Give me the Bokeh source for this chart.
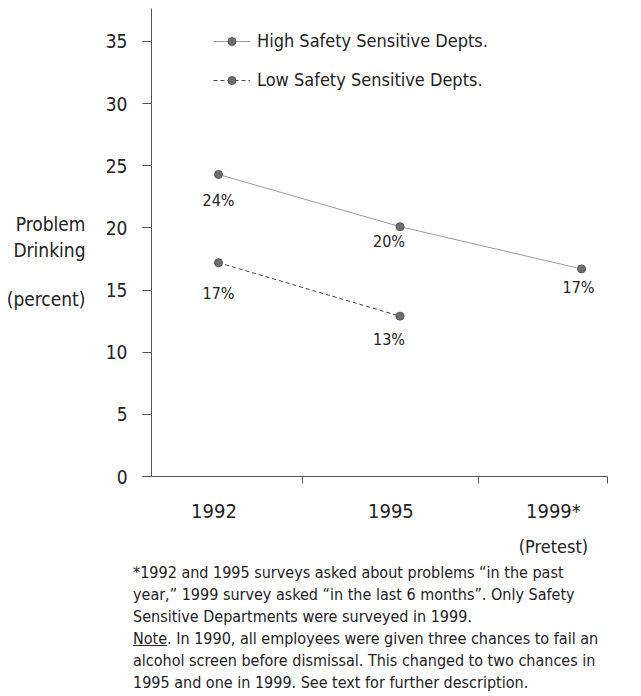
from bokeh.plotting import figure
from bokeh.models import FixedTicker, Legend, LegendItem, Div, ColumnDataSource, LinearAxis
from bokeh.layouts import column
from bokeh.embed import file_html
from bokeh.resources import INLINE
from bokeh.core.properties import value

# ---- data ----
years = ["1992", "1995", "1999*"]
high_values = [24.3, 20.1, 16.7]
low_values = [17.2, 12.9]
high_labels = ["24%", "20%", "17%"]
low_labels = ["17%", "13%"]
y_ticks = [0, 5, 10, 15, 20, 25, 30, 35]
series_names = ["High Safety Sensitive Depts.", "Low Safety Sensitive Depts."]
sub_label = "(Pretest)"
y_title = ["Problem", "Drinking", "(percent)"]
footnote_lines = [
    "*1992 and 1995 surveys asked about problems \u201cin the past",
    "year,\u201d 1999 survey asked \u201cin the last 6 months\u201d. Only Safety",
    "Sensitive Departments were surveyed in 1999.",
    "<u>Note</u>. In 1990, all employees were given three chances to fail an",
    "alcohol screen before dismissal. This changed to two chances in",
    "1995 and one in 1999. See text for further description.",
]

# ---- style / layout ----
FONT = "DejaVu Sans Condensed, DejaVu Sans"
TXT = "#222222"
AX = "#555555"

x_idx = list(range(len(years)))
label_pos = [x + d for x, d in zip(x_idx, [-0.025, -0.05, -0.155])]
sep_pos = [0.463, 1.432, 2.143]
y_title_pos = [20.3, 18.2, 14.3]

p = figure(width=633, height=562, x_range=(-0.369, 2.143), y_range=(0, 37.65),
           output_backend="svg", toolbar_location=None,
           min_border_left=151, min_border_right=26, min_border_top=8, min_border_bottom=86)
p.outline_line_color = None
p.xgrid.grid_line_color = None
p.ygrid.grid_line_color = None

# y axis
p.yaxis.ticker = FixedTicker(ticks=y_ticks)
p.yaxis.axis_line_color = AX
p.yaxis.major_tick_line_color = AX
p.yaxis.major_tick_out = 9
p.yaxis.major_tick_in = 0
p.yaxis.minor_tick_line_color = None
p.yaxis.major_label_text_font = FONT
p.yaxis.major_label_text_font_size = "19px"
p.yaxis.major_label_text_color = TXT
p.yaxis.major_label_standoff = 15

# y title as an outer label-only axis
ytitle_axis = LinearAxis(ticker=FixedTicker(ticks=y_title_pos),
                         major_label_overrides={v: t for v, t in zip(y_title_pos, y_title)},
                         axis_line_color=None, major_tick_line_color=None,
                         minor_tick_line_color=None, major_tick_out=0, major_tick_in=0,
                         major_label_text_font=FONT, major_label_text_font_size="19px",
                         major_label_text_color=TXT, major_label_standoff=17)
p.add_layout(ytitle_axis, "left")

# x axis
p.xaxis.ticker = FixedTicker(ticks=label_pos, minor_ticks=sep_pos)
p.xaxis.major_label_overrides = {pos: yr for pos, yr in zip(label_pos, years)}
p.xaxis.axis_line_color = AX
p.xaxis.major_tick_line_color = None
p.xaxis.major_tick_out = 0
p.xaxis.major_tick_in = 0
p.xaxis.minor_tick_line_color = AX
p.xaxis.minor_tick_out = 7
p.xaxis.minor_tick_in = 0
p.xaxis.major_label_text_font = FONT
p.xaxis.major_label_text_font_size = "20px"
p.xaxis.major_label_text_color = TXT
p.xaxis.major_label_standoff = 15

# "(Pretest)" as a second label-only axis below
sub_axis = LinearAxis(ticker=FixedTicker(ticks=[label_pos[2]]),
                      major_label_overrides={label_pos[2]: sub_label},
                      axis_line_color=None, major_tick_line_color=None,
                      minor_tick_line_color=None, major_tick_out=0, major_tick_in=0,
                      major_label_text_font=FONT, major_label_text_font_size="18px",
                      major_label_text_color=TXT, major_label_standoff=10)
p.add_layout(sub_axis, "below")

# series
hx = x_idx[:len(high_values)]
lx = x_idx[:len(low_values)]
r_h = p.line(hx, high_values, line_color="#9a9a9a", line_width=1)
s_h = p.scatter(hx, high_values, size=8, fill_color="#6f6f6f", line_color="#555555")
r_l = p.line(lx, low_values, line_color="#444444", line_width=1, line_dash="4 3")
s_l = p.scatter(lx, low_values, size=8, fill_color="#6f6f6f", line_color="#555555")

# value labels
hsrc = ColumnDataSource(dict(x=hx, y=high_values, t=high_labels,
                             dx=[0, -11, -3], dy=[26, 15, 19]))
lsrc = ColumnDataSource(dict(x=lx, y=low_values, t=low_labels,
                             dx=[0, -11], dy=[31, 23]))
for src in (hsrc, lsrc):
    p.text(x="x", y="y", text="t", x_offset="dx", y_offset="dy", source=src,
           text_align="center", text_baseline="middle",
           text_font=value(FONT), text_font_size="16px", text_color=TXT)

# legend
legend = Legend(items=[LegendItem(label=series_names[0], renderers=[r_h, s_h]),
                       LegendItem(label=series_names[1], renderers=[r_l, s_l])],
                location=(62, 386), orientation="vertical",
                glyph_width=37, glyph_height=20, label_height=20, label_standoff=7,
                spacing=18, padding=0, margin=0,
                border_line_color=None, background_fill_alpha=0,
                label_text_font=FONT, label_text_font_size="18px", label_text_color=TXT)
p.add_layout(legend)

div = Div(text="<br>".join(footnote_lines), width=500, margin=(0, 0, 0, 133),
          styles={"font-family": FONT, "font-size": "16px", "line-height": "22px",
                  "color": TXT})

layout = column(p, div, spacing=0)
open("out.html", "w").write(file_html(layout, INLINE))
